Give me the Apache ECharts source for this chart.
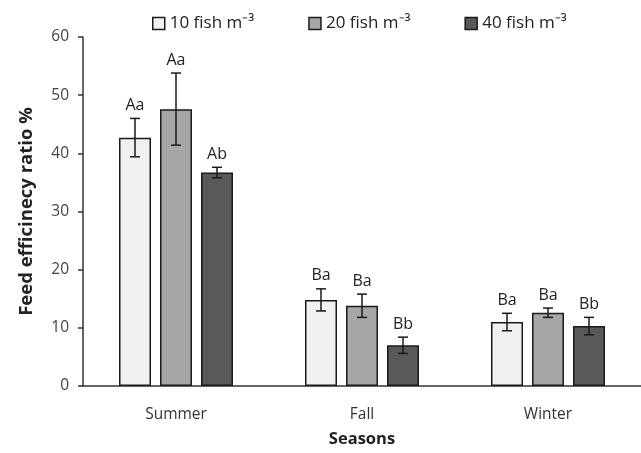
<!DOCTYPE html>
<html><head><meta charset="utf-8">
<script src="https://cdn.jsdelivr.net/npm/echarts@6/dist/echarts.min.js"></script>
<style>html,body{margin:0;padding:0;background:#fff}#c{width:641px;height:453px}</style>
</head><body><div id="c"></div>
<script>
const categories = ['Summer', 'Fall', 'Winter'];
const seriesNames = ['10 fish m\u207B\u00B3', '20 fish m\u207B\u00B3', '40 fish m\u207B\u00B3'];
const values10 = [42.7, 14.8, 11.0];
const values20 = [47.6, 13.8, 12.6];
const values40 = [36.7, 7.0, 10.3];
const err10 = [3.3, 1.9, 1.5];
const err20 = [6.2, 2.0, 0.8];
const err40 = [0.9, 1.4, 1.5];
const letters10 = ['Aa', 'Ba', 'Ba'];
const letters20 = ['Aa', 'Ba', 'Ba'];
const letters40 = ['Ab', 'Bb', 'Bb'];
const yTicks = [0, 10, 20, 30, 40, 50, 60];

const colors = ['#f0f0f0', '#a6a6a6', '#595959'];
const vals = [values10, values20, values40];
const errs = [err10, err20, err40];
const lets = [letters10, letters20, letters40];
const BAR_W = 32, GAP = 9;
const FONT = '"Open Sans", "Liberation Sans", sans-serif';

const chart = echarts.init(document.getElementById('c'), null, {renderer: 'canvas'});
const series = [];
vals.forEach((v, i) => {
  series.push({
    name: seriesNames[i], type: 'bar', data: v, barWidth: BAR_W, barGap: (GAP / BAR_W * 100) + '%',
    itemStyle: {color: colors[i], borderColor: '#1a1a1a', borderWidth: 1.5},
    animation: false
  });
});
vals.forEach((v, i) => {
  series.push({
    type: 'custom', animation: false, silent: true, z: 10,
    data: v.map((val, j) => [j, val, errs[i][j]]),
    renderItem: function (params, api) {
      const c = api.value(0), m = api.value(1), e = api.value(2);
      const off = (i - 1) * (BAR_W + GAP);
      const top = api.coord([c, m + e]);
      const bot = api.coord([c, m - e]);
      const x = top[0] + off;
      const cap = 5;
      const st = {stroke: '#1a1a1a', lineWidth: 1.5};
      return {type: 'group', children: [
        {type: 'line', shape: {x1: x, y1: top[1], x2: x, y2: bot[1]}, style: st},
        {type: 'line', shape: {x1: x - cap, y1: top[1], x2: x + cap, y2: top[1]}, style: st},
        {type: 'line', shape: {x1: x - cap, y1: bot[1], x2: x + cap, y2: bot[1]}, style: st},
        {type: 'text', x: x, y: top[1] - 5, style: {text: lets[i][c], fill: '#222', font: '16px ' + FONT, textAlign: 'center', textVerticalAlign: 'bottom'}}
      ]};
    }
  });
});

chart.setOption({
  backgroundColor: '#fff',
  animation: false,
  legend: {
    data: seriesNames, top: 10, left: 147, itemWidth: 12, itemHeight: 12, itemGap: 54,
    icon: 'rect',
    textStyle: {fontSize: 17, color: '#222', fontFamily: FONT},
    itemStyle: {borderColor: '#1a1a1a', borderWidth: 1.5}
  },
  grid: {left: 83, right: 0, top: 37, bottom: 63, containLabel: false},
  xAxis: {
    type: 'category', data: categories,
    name: 'Seasons', nameLocation: 'middle', nameGap: 45,
    nameTextStyle: {fontSize: 16.5, fontWeight: 'bold', color: '#222', fontFamily: FONT},
    axisLine: {lineStyle: {color: '#333', width: 1.5}},
    axisTick: {show: false},
    axisLabel: {fontSize: 15.5, color: '#333', margin: 21, fontFamily: FONT}
  },
  yAxis: {
    type: 'value', min: yTicks[0], max: yTicks[yTicks.length - 1], interval: 10,
    name: 'Feed efficinecy ratio %', nameLocation: 'middle', nameGap: 47,
    nameTextStyle: {fontSize: 18.5, fontWeight: 'bold', color: '#222', fontFamily: FONT},
    axisLine: {show: true, lineStyle: {color: '#333', width: 1.5}},
    axisTick: {show: true, length: 5, lineStyle: {color: '#333', width: 1.5}},
    splitLine: {show: false},
    axisLabel: {fontSize: 15.5, color: '#444', margin: 14, fontFamily: FONT}
  },
  series: series
});
</script></body></html>
